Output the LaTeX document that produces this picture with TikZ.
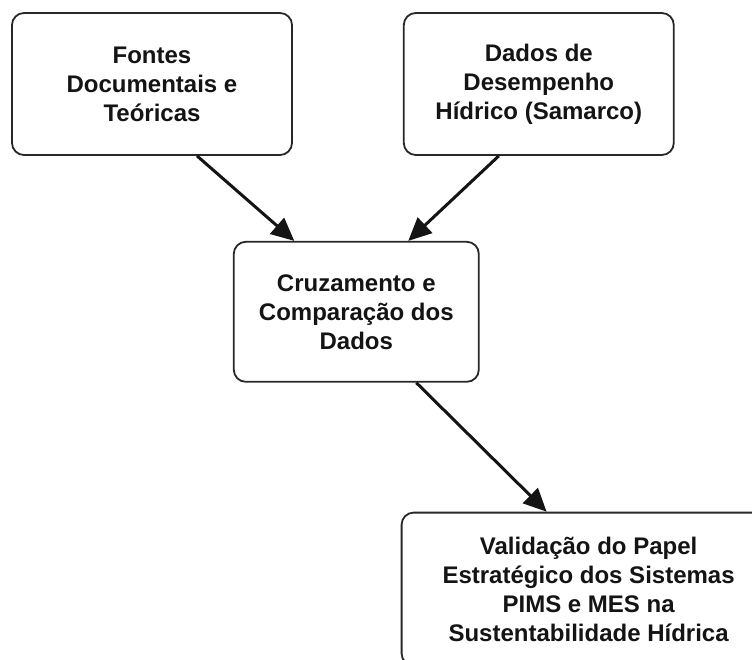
\documentclass[tikz,border=0pt]{standalone}
\usepackage{xcolor}
\usepackage{fontspec}
\setmainfont{Liberation Sans}
\usepackage{tikz}
\usetikzlibrary{arrows.meta, positioning}
\definecolor{flowdark}{RGB}{20, 20, 20}
\definecolor{flowline}{RGB}{40, 40, 40}
\tikzset{
    stagebox/.style={rectangle, rounded corners=12pt, draw=flowline, fill=white, line width=1.8pt, inner sep=0pt, align=center, text=flowdark, font=\bfseries\fontsize{24}{29}\selectfont},
    arrow/.style={draw=flowdark, line width=3pt, -{Triangle[length=23pt, width=21pt]}}
}
\begin{document}
\begin{tikzpicture}[node distance=2cm]
    \clip (-152pt,84pt) rectangle (600pt,-576pt);
    \fill [white] (-152pt,84pt) rectangle (600pt,-576pt);
    \node (fontes) [stagebox, minimum width=280pt, minimum height=142pt] {Fontes\\Documentais e\\Teóricas};
    \node (dados) [stagebox, right=110pt of fontes, minimum width=270pt, minimum height=142pt] {Dados de\\Desempenho\\Hídrico (Samarco)};
    \node (cruzamento) [stagebox, below right=85pt and -60pt of fontes, minimum width=245pt, minimum height=140pt] {Cruzamento e\\Comparação dos\\Dados};
    \node (validacao) [stagebox, below right=129pt and -79pt of cruzamento, minimum width=374pt, minimum height=153pt] {Validação do Papel\\Estratégico dos Sistemas\\PIMS e MES na\\Sustentabilidade Hídrica};

    \draw [arrow] ([xshift=45pt]fontes.south) -- ([xshift=-62pt]cruzamento.north);
    \draw [arrow] ([xshift=-40pt]dados.south) -- ([xshift=52pt]cruzamento.north);
    \draw [arrow] ([xshift=60pt]cruzamento.south) -- ([xshift=-42pt]validacao.north);
\end{tikzpicture}
\end{document}
